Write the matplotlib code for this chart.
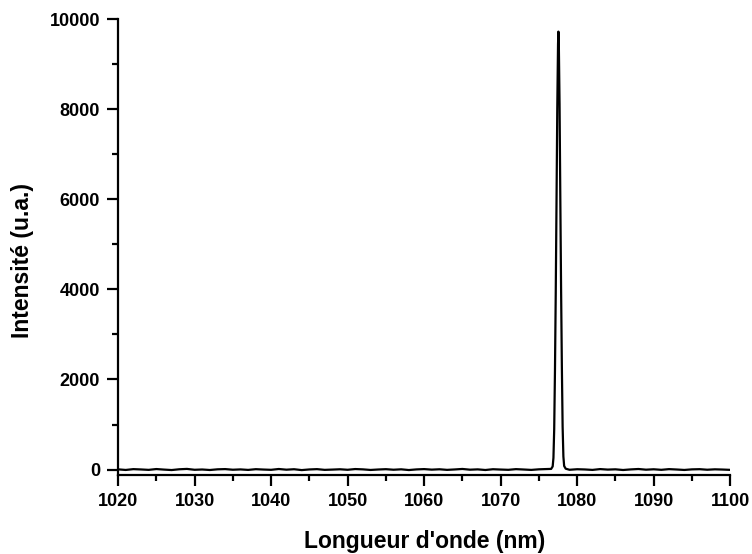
import matplotlib
matplotlib.use("Agg")
import matplotlib.pyplot as plt
from matplotlib.ticker import MultipleLocator

# baseline, 1 nm steps (hand-read, small noise around zero)
base_left_nm = list(range(1020, 1077))
base_left_val = [5, -8, 10, 3, -6, 12, 0, -10, 7, 15, -4, 2, -9, 6, 11, -3, 4, -7, 9, 1,
                 -5, 13, -2, 8, -11, 3, 10, -6, 0, 7, -4, 12, 5, -8, 2, 9, -3, 6, -10, 4,
                 11, -1, 7, -6, 3, 14, -2, 5, -9, 8, 1, -5, 10, 2, -7, 6, 12]
# peak around 1077.5 nm
peak_nm = [1076.6, 1076.8, 1076.9, 1077.0, 1077.1, 1077.2, 1077.3, 1077.4, 1077.5, 1077.55,
           1077.6, 1077.7, 1077.8, 1077.9, 1078.0, 1078.1, 1078.2, 1078.3, 1078.5]
peak_val = [15, 70, 260, 900, 2200, 3900, 5900, 8000, 9450, 9720,
            9500, 8100, 6000, 4000, 2300, 950, 290, 80, 20]
base_right_nm = list(range(1079, 1101))
base_right_val = [-4, 8, 3, -7, 11, 0, 6, -9, 4, 13, -2, 7, -5, 10, 2, -8, 5, 9, -3, 6, 1, -6]

wl = base_left_nm + peak_nm + base_right_nm
inten = base_left_val + peak_val + base_right_val

plt.rcParams["font.family"] = ["Liberation Sans", "DejaVu Sans"]
plt.rcParams["font.weight"] = "bold"

fig = plt.figure(figsize=(7.52, 5.54), dpi=100)
ax = fig.add_axes([0.157, 0.1426, 0.814, 0.8231])
ax.plot(wl, inten, color="black", lw=1.6)

ax.set_xlim(1020, 1100)
ax.set_ylim(-120, 10000)
ax.xaxis.set_major_locator(MultipleLocator(10))
ax.xaxis.set_minor_locator(MultipleLocator(5))
ax.yaxis.set_major_locator(MultipleLocator(2000))
ax.yaxis.set_minor_locator(MultipleLocator(1000))

for side in ("top", "right"):
    ax.spines[side].set_visible(False)
for side in ("left", "bottom"):
    ax.spines[side].set_linewidth(1.6)

ax.tick_params(which="major", direction="out", length=8, width=1.6, labelsize=13, pad=5)
ax.tick_params(which="minor", direction="out", length=4.5, width=1.6)
for lab in ax.get_xticklabels() + ax.get_yticklabels():
    lab.set_fontweight("bold")

ax.set_xlabel("Longueur d'onde (nm)", fontsize=16.5, fontweight="bold")
ax.set_ylabel("Intensité (u.a.)", fontsize=16.5, fontweight="bold")
ax.xaxis.set_label_coords(0.5, -0.12)
ax.yaxis.set_label_coords(-0.137, 0.47)

fig.savefig("out.png", dpi=100)
